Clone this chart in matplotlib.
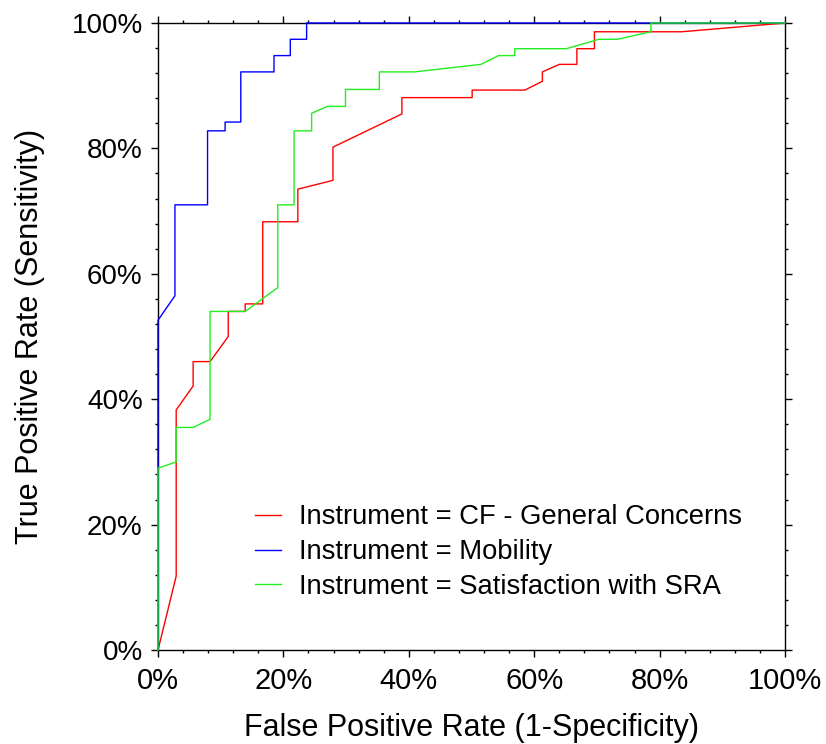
# Curvas ROC - tres instrumentos

import matplotlib.pyplot as plt
from matplotlib.ticker import MultipleLocator, PercentFormatter

# Puntos (1-Especificidad, Sensibilidad) de cada curva
fpr_cf = [0, 0.029, 0.029, 0.056, 0.056, 0.083, 0.112, 0.112, 0.139, 0.139,
          0.167, 0.167, 0.223, 0.223, 0.279, 0.279, 0.389, 0.389, 0.501, 0.501,
          0.585, 0.613, 0.613, 0.640, 0.668, 0.668, 0.696, 0.696, 0.835, 1.0]
tpr_cf = [0, 0.118, 0.383, 0.421, 0.460, 0.460, 0.500, 0.540, 0.540, 0.552,
          0.552, 0.683, 0.683, 0.735, 0.749, 0.802, 0.855, 0.881, 0.881, 0.893,
          0.893, 0.907, 0.922, 0.934, 0.934, 0.959, 0.959, 0.986, 0.986, 1.0]

fpr_mob = [0, 0, 0.027, 0.027, 0.079, 0.079, 0.107, 0.107, 0.132, 0.132,
           0.185, 0.185, 0.211, 0.211, 0.237, 0.237, 1.0]
tpr_mob = [0, 0.526, 0.565, 0.710, 0.710, 0.828, 0.828, 0.842, 0.842, 0.922,
           0.922, 0.948, 0.948, 0.974, 0.974, 1.0, 1.0]

fpr_sra = [0, 0, 0.029, 0.029, 0.056, 0.083, 0.083, 0.139, 0.191, 0.191,
           0.217, 0.217, 0.245, 0.245, 0.270, 0.299, 0.299, 0.353, 0.353, 0.409,
           0.515, 0.543, 0.569, 0.569, 0.651, 0.703, 0.733, 0.786, 0.786, 1.0]
tpr_sra = [0, 0.290, 0.300, 0.355, 0.355, 0.368, 0.540, 0.540, 0.578, 0.710,
           0.710, 0.828, 0.828, 0.856, 0.867, 0.867, 0.894, 0.894, 0.922, 0.922,
           0.934, 0.948, 0.948, 0.959, 0.959, 0.974, 0.974, 0.986, 1.0, 1.0]

etiquetas = ['Instrument = CF - General Concerns',
             'Instrument = Mobility',
             'Instrument = Satisfaction with SRA']

plt.rcParams['font.family'] = ['Liberation Sans', 'DejaVu Sans']

fig = plt.figure(figsize=(8.26, 7.44), dpi=100)
ax = fig.add_axes([0.1913, 0.1263, 0.7591, 0.8428])

ax.plot(fpr_cf, tpr_cf, color='#ff0000', linewidth=1.0, label=etiquetas[0], clip_on=False, zorder=3)
ax.plot(fpr_mob, tpr_mob, color='#0000ff', linewidth=1.0, label=etiquetas[1], clip_on=False, zorder=3)
ax.plot(fpr_sra, tpr_sra, color='#22ee22', linewidth=1.0, label=etiquetas[2], clip_on=False, zorder=3)

ax.set_xlim(0, 1)
ax.set_ylim(0, 1)

# Marcas cada 20% y secundarias cada 4%, en los cuatro lados
for eje in (ax.xaxis, ax.yaxis):
    eje.set_major_locator(MultipleLocator(0.2))
    eje.set_minor_locator(MultipleLocator(0.04))
    eje.set_major_formatter(PercentFormatter(xmax=1, decimals=0))
ax.tick_params(which='both', direction='out', top=True, right=True, width=1.0)
ax.tick_params(which='major', length=5)
ax.tick_params(which='minor', length=2.5)
ax.tick_params(axis='x', labelsize=21, pad=7)
ax.tick_params(axis='y', labelsize=20, pad=6)

for s in ax.spines.values():
    s.set_linewidth(1.0)

ax.set_xlabel('False Positive Rate (1-Specificity)', fontsize=22, labelpad=13)
ax.set_ylabel('True Positive Rate (Sensitivity)', fontsize=22, labelpad=19)

ax.legend(loc='center left', bbox_to_anchor=(0.155, 0.156), frameon=False,
          fontsize=19.7, handlelength=0.95, handletextpad=0.65,
          labelspacing=0.32, borderpad=0, borderaxespad=0)

fig.savefig('out.png', dpi=100)
